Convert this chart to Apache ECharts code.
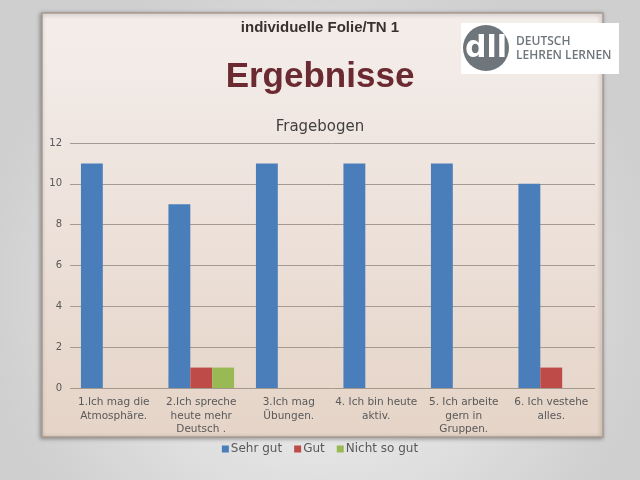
<!DOCTYPE html>
<html><head><meta charset="utf-8">
<script src="https://cdn.jsdelivr.net/npm/echarts@6/dist/echarts.min.js"></script>
<style>html,body{margin:0;padding:0;width:640px;height:480px;overflow:hidden;background:#e4e4e4}#c{width:640px;height:480px}</style>
</head><body><div id="c"></div>
<script>
const categories = ["1.Ich mag die\nAtmosphäre.", "2.Ich spreche\nheute mehr\nDeutsch .", "3.Ich mag\nÜbungen.", "4. Ich bin heute\naktiv.", "5. Ich arbeite\ngern in\nGruppen.", "6. Ich vestehe\nalles."];
const seriesNames = ["Sehr gut", "Gut", "Nicht so gut"];
const sehrGut = [11, 9, 11, 11, 11, 10];
const gut = [0, 1, 0, 0, 0, 1];
const nichtSoGut = [0, 1, 0, 0, 0, 0];
const yTicks = [0, 2, 4, 6, 8, 10, 12];

const chart = echarts.init(document.getElementById('c'), null, {renderer: 'canvas'});
const colors = ['#4a7ebb', '#be4b48', '#98b954'];
const font = 'DejaVu Sans';
chart.setOption({
  animation: false,
  color: colors,
  graphic: [
    {type: 'rect', z: -10, shape: {x: 0, y: 0, width: 640, height: 480},
     style: {fill: new echarts.graphic.RadialGradient(0.5, 0.6, 0.7, [{offset: 0, color: '#f7f7f7'}, {offset: 1, color: '#cfcfcf'}])}},
    {type: 'rect', z: -9, shape: {x: 42, y: 13, width: 561, height: 424},
     style: {fill: new echarts.graphic.LinearGradient(0, 0, 0, 1, [{offset: 0, color: '#f4eeeb'}, {offset: 0.5, color: '#ede1da'}, {offset: 1, color: '#e5d4c7'}]),
       stroke: '#a89a90', lineWidth: 1.5, shadowBlur: 4, shadowColor: 'rgba(0,0,0,0.35)', shadowOffsetX: -1, shadowOffsetY: 1}},
    {type: 'text', z: 5, left: 'center', top: 20, style: {text: 'individuelle Folie/TN 1', font: 'bold 15px "Liberation Sans", Arial', fill: '#3a3030'}},
    {type: 'text', z: 5, left: 'center', top: 60, style: {text: 'Ergebnisse', font: 'bold 35px "Liberation Sans", Arial', fill: '#6b2a32'}},
    {type: 'rect', z: 5, shape: {x: 461, y: 23, width: 158, height: 51}, style: {fill: '#ffffff'}},
    {type: 'circle', z: 6, shape: {cx: 486, cy: 48, r: 23}, style: {fill: '#6f767b'}},
    {type: 'text', z: 7, x: 486, y: 49, style: {text: 'dll', font: 'bold 30px "DejaVu Sans"', fill: '#ffffff', align: 'center', verticalAlign: 'middle'}},
    {type: 'text', z: 7, x: 516, y: 35, style: {text: 'DEUTSCH\nLEHREN LERNEN', font: '600 12px "Open Sans", "DejaVu Sans"', fill: '#6f767b', lineHeight: 14}}
  ],
  title: {text: 'Fragebogen', left: 'center', top: 115, textStyle: {fontFamily: font, fontWeight: 'normal', fontSize: 15, color: '#404040'}},
  legend: {bottom: 20, left: 'center', itemWidth: 7, itemHeight: 7, itemGap: 12, icon: 'rect',
    textStyle: {fontFamily: font, fontSize: 12, color: '#595959', padding: [0, 0, 0, -3]}, data: seriesNames},
  grid: {left: 70, right: 45, top: 143, bottom: 92, containLabel: false},
  xAxis: {type: 'category', data: categories,
    axisLine: {show: false}, axisTick: {show: false},
    axisLabel: {interval: 0, fontFamily: font, fontSize: 10.5, color: '#595959', lineHeight: 13.5, margin: 8}},
  yAxis: {type: 'value', min: 0, max: 12, interval: 2,
    axisLabel: {fontFamily: font, fontSize: 10, color: '#595959', margin: 8,
      formatter: v => yTicks.includes(v) ? String(v) : ''},
    splitLine: {lineStyle: {color: '#a39a92', width: 1}}},
  series: [
    {name: seriesNames[0], type: 'bar', data: sehrGut, barGap: '0%', barCategoryGap: '25%'},
    {name: seriesNames[1], type: 'bar', data: gut.map(v => v || null), barGap: '0%', barCategoryGap: '25%'},
    {name: seriesNames[2], type: 'bar', data: nichtSoGut.map(v => v || null), barGap: '0%', barCategoryGap: '25%'}
  ]
});
</script></body></html>
